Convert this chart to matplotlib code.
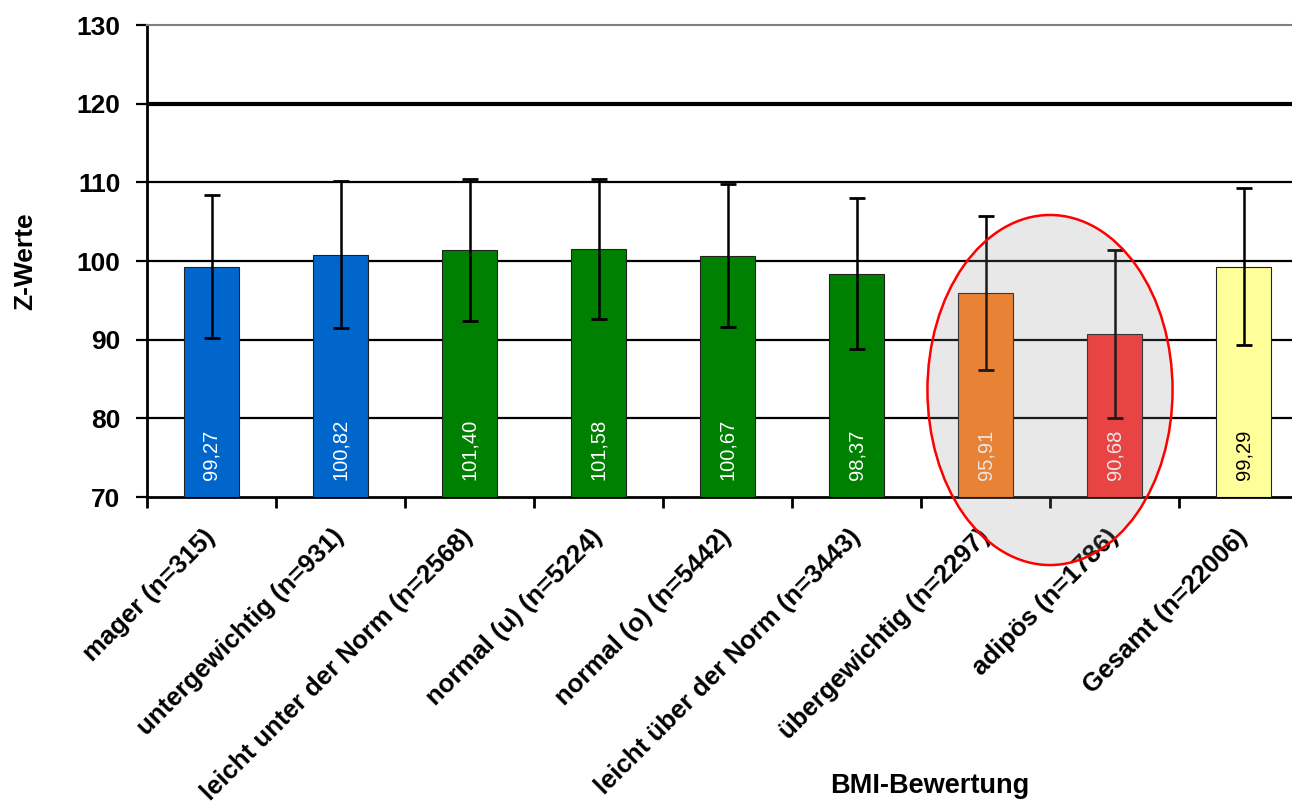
import matplotlib
matplotlib.use("Agg")
import matplotlib.pyplot as plt
from matplotlib.patches import Ellipse
import numpy as np

plt.rcParams['font.family'] = ['Liberation Sans', 'DejaVu Sans']

categories = ["mager (n=315)", "untergewichtig (n=931)", "leicht unter der Norm (n=2568)",
              "normal (u) (n=5224)", "normal (o) (n=5442)", "leicht über der Norm (n=3443)",
              "übergewichtig (n=2297)", "adipös (n=1786)", "Gesamt (n=22006)"]
means = [99.27, 100.82, 101.40, 101.58, 100.67, 98.37, 95.91, 90.68, 99.29]
sds = [9.1, 9.4, 9.0, 8.9, 9.1, 9.6, 9.8, 10.7, 10.0]
value_labels = ["99,27", "100,82", "101,40", "101,58", "100,67", "98,37", "95,91", "90,68", "99,29"]
colors = ["#0066CC", "#0066CC", "#008000", "#008000", "#008000", "#008000",
          "#FF8020", "#FF3333", "#FFFF99"]
label_colors = ["white"] * 8 + ["black"]
yticks = [70, 80, 90, 100, 110, 120, 130]

fig = plt.figure(figsize=(12.92, 8.02), dpi=100)
ax = fig.add_axes([147/1292, 1 - 497/802, (1308-147)/1292, (497-25)/802])

x = np.arange(len(categories))
ax.bar(x, [m - 70 for m in means], bottom=70, width=0.42, color=colors,
       edgecolor="#222222", linewidth=0.8, zorder=3)
ax.errorbar(x, means, yerr=sds, fmt='none', ecolor='black', elinewidth=1.8,
            capsize=6, capthick=2, zorder=4)

for xi, lab, lc in zip(x, value_labels, label_colors):
    ax.text(xi, 72.2, lab, rotation=90, ha='center', va='bottom',
            color=lc, fontsize=14.5, zorder=4)

ax.set_xlim(-0.5, len(categories) - 0.5)
ax.set_ylim(70, 130)
ax.set_yticks(yticks)
ax.set_yticklabels([str(v) for v in yticks], fontsize=19, fontweight='bold')
for v in yticks[1:-1]:
    ax.axhline(v, color='black', linewidth=3 if v == 120 else 1.6, zorder=1)

ax.set_xticks(x)
ax.set_xticklabels(categories, rotation=45, ha='right', va='center',
                   fontsize=18.5, fontweight='bold', rotation_mode='anchor')
ax.tick_params(axis='x', which='major', length=0, pad=26)
ax.set_xticks(np.arange(-0.5, len(categories), 1.0), minor=True)
ax.tick_params(axis='x', which='minor', length=8, width=2, direction='out', color='black')
ax.tick_params(axis='y', length=8, width=1.6, direction='out', pad=11)

for s in ['left', 'bottom']:
    ax.spines[s].set_color('black')
    ax.spines[s].set_linewidth(2)
ax.spines['right'].set_visible(False)
ax.spines['top'].set_color('#808080')
ax.spines['top'].set_linewidth(1.5)

ax.set_ylabel("Z-Werte", fontsize=19, fontweight='bold', labelpad=28)
fig.text(930/1292, 1 - 786/802, "BMI-Bewertung", fontsize=19.5, fontweight='bold',
         ha='center', va='center')

ell = Ellipse((6.5, 83.6), width=1.9, height=44.5, facecolor='#8C8C8C', alpha=0.2,
              edgecolor='none', zorder=6, clip_on=False)
ax.add_patch(ell)
ell2 = Ellipse((6.5, 83.6), width=1.9, height=44.5, facecolor='none',
               edgecolor='#FF0000', linewidth=1.8, zorder=7, clip_on=False)
ax.add_patch(ell2)

fig.savefig("out.png", dpi=100)
